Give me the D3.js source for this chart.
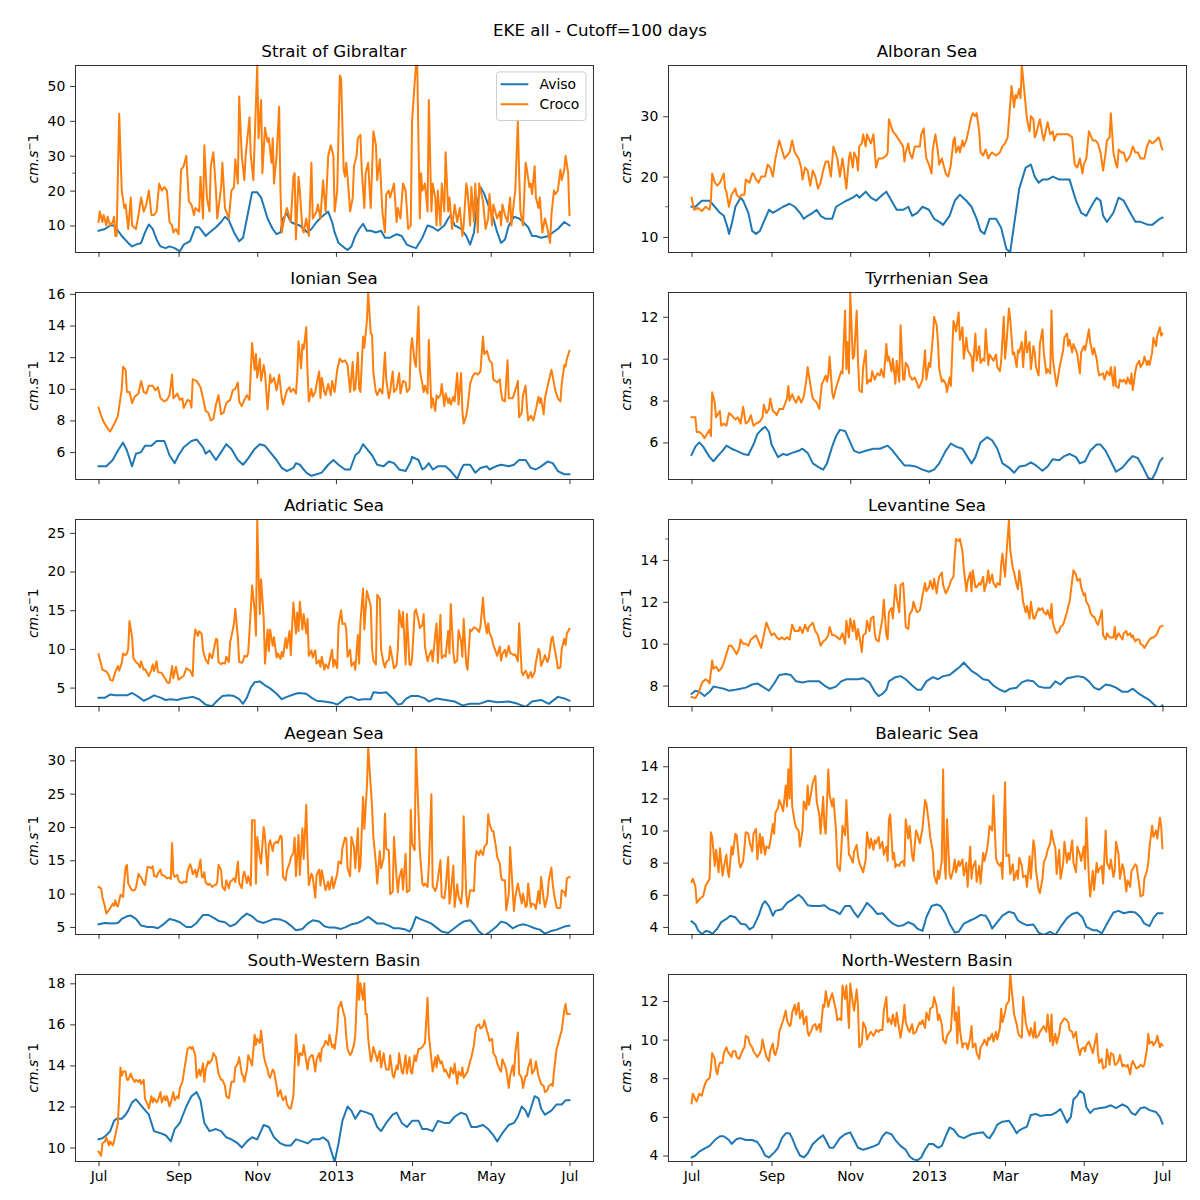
<!DOCTYPE html>
<html><head><meta charset="utf-8">
<script src="https://cdn.jsdelivr.net/npm/d3@7"></script>
<style>
body{margin:0;background:#fff}
svg{display:block}
text{font-family:"DejaVu Sans",sans-serif;fill:#000}
</style>
</head><body>
<svg id="chart" width="1200" height="1200"></svg>
<script>
// ---------------- data ----------------
const figureTitle = "EKE all - Cutoff=100 days";
const seriesNames = ["Aviso", "Croco"];
const seriesColors = ["#1f77b4", "#ff7f0e"];
const startDay = "2012-07-01"; // day 0 of every series; pairs are [day offset, value]

const regionTitles = ["Strait of Gibraltar","Alboran Sea","Ionian Sea","Tyrrhenian Sea","Adriatic Sea","Levantine Sea","Aegean Sea","Balearic Sea","South-Western Basin","North-Western Basin"];

const gibraltarYlim = [2.4, 56.0],  gibraltarTicks = [10,20,30,40,50], gibraltarMinor = [25];
const alboranYlim   = [7.5, 38.5],  alboranTicks   = [10,20,30],       alboranMinor = [15];
const ionianYlim    = [4.28, 16.1], ionianTicks    = [6,8,10,12,14,16], ionianMinor = [];
const tyrrhenianYlim= [4.24, 13.17],tyrrhenianTicks= [6,8,10,12],      tyrrhenianMinor = [];
const adriaticYlim  = [2.53, 26.7], adriaticTicks  = [5,10,15,20,25],  adriaticMinor = [];
const levantineYlim = [6.99, 15.92],levantineTicks = [8,10,12,14],     levantineMinor = [15];
const aegeanYlim    = [3.94, 32.0], aegeanTicks    = [5,10,15,20,25,30], aegeanMinor = [];
const balearicYlim  = [3.56, 15.2], balearicTicks  = [4,6,8,10,12,14], balearicMinor = [];
const swYlim        = [9.33, 18.44],swTicks        = [10,12,14,16,18], swMinor = [];
const nwYlim        = [3.7, 13.38], nwTicks        = [4,6,8,10,12],    nwMinor = [];

const gibraltarAviso = [[0,8.5],[5,9],[9,10],[12,10],[18,7],[23,5],[26,4],[29,4.5],[33,5],[36,8],[39,10.3],[42,9],[45,6],[48,4],[52,3.5],[55,4],[59,3.5],[63,2.6],[66,4.5],[71,5.5],[75,9.5],[78,9.5],[81,8],[83,7],[86,8],[91,9.5],[95,11],[98,12.5],[101,11.5],[105,8],[109,5.5],[112,6.5],[115,12],[119,19.5],[123,19.5],[126,18],[131,12],[135,9],[138,7.5],[141,8],[143,12],[146,13.5],[149,11],[152,10.5],[156,10],[159,9],[162,8],[165,9],[169,11],[173,12.5],[178,14],[181,11],[183,8],[186,5],[191,3.5],[193,3],[196,4],[199,7],[202,9],[205,10.5],[208,8.5],[211,8.5],[215,8],[219,8.5],[222,6.5],[226,6.5],[231,7.5],[235,7],[239,4.5],[242,4],[246,3.5],[251,6.5],[255,10],[259,9.5],[263,8.5],[268,10],[271,12],[273,13],[276,10],[281,9],[285,7],[288,4.5],[291,8],[293,15],[296,21],[299,19],[302,16],[306,12],[309,8],[312,5],[315,6],[318,10],[322,12.5],[326,12],[329,11],[333,9.5],[336,7],[339,7],[343,6.5],[349,7],[352,8],[356,9],[361,11],[365,10]];
const gibraltarCroco = [[0,11],[1,14],[3,11],[4,13],[6,10],[7,12.5],[9,10],[11,11],[12,12.5],[13,7],[14,7],[16,42],[18,20],[20,15],[21,16],[23,9],[25,18],[26,10],[29,9],[31,13],[33,18],[35,14],[37,16],[39,20],[41,13],[43,13],[45,14],[47,22],[49,20],[51,21],[53,20],[55,11],[57,10],[58,8],[60,9],[62,7.5],[64,26],[66,27],[68,30],[70,17],[72,16],[74,13],[75,15],[78,14],[79,24],[81,12],[82,33],[84,18],[86,14],[87,27],[89,31],[91,20],[92,12],[95,21],[96,28],[98,15],[101,12],[103,20],[105,21],[106,29],[108,22],[109,47],[111,30],[113,23],[114,30],[117,41],[118,30],[120,23],[122,45],[123,56],[124,35],[126,46],[127,25],[129,38],[131,34],[132,35],[134,28],[135,35],[136,22],[138,30],[140,44],[141,20],[142,8],[144,12],[146,15],[149,11],[151,24],[152,25],[153,6],[155,24],[156,20],[158,9],[159,8],[161,12],[163,7],[165,28],[166,12],[169,14],[170,16],[172,12],[174,23],[176,14],[178,30],[180,33],[182,30],[183,14],[185,20],[187,53],[188,52],[190,26],[191,24],[192,28],[193,24],[195,14],[197,18],[198,27],[200,30],[201,35],[203,36],[204,26],[206,15],[207,25],[209,28],[210,21],[211,15],[213,37],[215,33],[216,23],[218,29],[220,14],[222,8],[223,19],[225,20],[226,18],[229,22],[231,11],[232,15],[234,12],[236,22],[238,20],[240,9],[242,10],[243,40],[246,56],[247,56],[249,12],[250,25],[251,20],[253,22],[255,14],[256,46],[258,14],[259,22],[261,18],[262,10],[263,20],[265,10],[266,22],[268,14],[269,31],[271,14],[272,18],[274,9],[276,16],[278,11],[280,15],[282,7],[283,10],[285,22],[286,20],[288,10],[289,21],[291,11],[292,22],[294,8],[295,22],[298,17],[300,9],[302,12],[303,19],[305,10],[306,16],[309,12],[311,14],[312,10],[313,16],[315,13],[317,11],[319,18],[320,10],[322,17],[323,20],[325,40],[326,25],[327,14],[329,10],[331,28],[332,26],[334,21],[335,22],[336,19],[338,27],[339,18],[341,15],[342,18],[344,8],[346,12],[348,9],[350,5],[351,13],[353,20],[354,19],[356,20],[358,26],[359,23],[361,26],[362,30],[364,25],[365,13]];

const alboranAviso = [[0,15],[3,15],[8,16],[14,16],[18,15],[22,14],[25,13.5],[28,11.5],[29,10.5],[31,12],[34,15],[38,16.5],[40,16],[44,14],[47,11],[50,10.5],[53,11],[57,13],[60,14.5],[63,14],[67,14.5],[71,15],[76,15.5],[80,15],[84,14],[87,13],[90,13.5],[94,14],[97,14.5],[100,13.5],[104,13],[109,13],[112,15],[116,15.5],[120,16],[125,16.5],[128,17],[130,16.5],[135,17.5],[139,16.5],[143,16],[148,17],[151,17.5],[155,16],[159,14.5],[164,14.5],[168,15],[171,13.5],[175,14],[179,15],[184,14.5],[188,13],[192,12.5],[195,12],[200,13.5],[204,16],[208,17],[213,16],[217,15],[221,13],[224,11],[227,10.5],[231,13],[236,13],[240,11.5],[244,8],[247,7.5],[250,12],[254,18],[259,21.5],[263,22],[266,20],[269,19],[272,19.5],[276,19.5],[280,20],[285,19.5],[289,19.5],[293,19.5],[298,16],[302,14],[306,13.5],[311,15.5],[314,16.5],[317,16],[319,13.5],[322,12.5],[327,14],[331,16.5],[335,16],[340,14],[344,12.5],[348,12.5],[354,12],[357,12],[360,12.5],[363,13],[365,13.2]];
const alboranCroco = [[0,16.5],[2,14.5],[5,14.8],[8,14.3],[11,15],[14,14.5],[15,16],[16,20.5],[18,19],[20,18.5],[22,19],[25,20.5],[26,18],[27,17.5],[29,15],[31,17],[34,18],[35,17],[37,16.5],[39,17],[41,17],[42,19.5],[45,19],[47,20.5],[48,20.5],[50,19.5],[52,19],[54,20],[57,20],[59,22],[61,21.5],[63,20],[65,23],[68,26],[70,24.5],[72,23],[74,23.5],[76,24],[78,26],[80,24],[83,23],[85,21.5],[86,19.5],[88,21.5],[90,21],[92,18.5],[94,21],[96,20],[98,18],[100,19],[102,21],[104,22.5],[106,22.5],[108,20],[110,25],[113,23],[115,20],[117,23],[118,21.5],[120,18],[122,23],[123,24],[125,21.5],[126,24],[128,23],[129,21],[130,25],[132,25.5],[133,27],[135,25],[136,27],[138,26],[139,25.5],[141,27],[143,21.5],[145,23],[148,23],[151,23.5],[152,24],[153,29.5],[156,27.5],[158,27],[161,26],[164,25],[165,22.5],[166,24],[168,25.5],[169,24],[171,23],[173,25],[175,25],[177,25],[178,27],[180,28],[181,25],[182,23],[184,22],[186,20.5],[187,24.5],[189,27],[191,24],[192,22],[194,23],[197,20.5],[199,20],[201,22],[203,26],[204,26.5],[205,24],[207,25],[208,24],[210,26],[211,25],[213,26],[215,28],[217,30],[218,30.5],[220,30],[221,30.5],[223,27.5],[224,24],[226,23.5],[228,24.5],[230,23],[231,23.5],[233,24],[236,23.5],[239,24],[241,25],[243,25.5],[245,26.5],[247,32],[248,35],[250,31.5],[251,33.5],[252,33],[254,34.5],[255,33],[256,38.5],[258,34],[260,29.5],[262,27.5],[263,30],[265,29.5],[266,26.5],[267,27],[270,29.5],[272,27],[273,26],[276,29],[278,27],[280,27.5],[281,26],[283,27],[286,27],[289,27],[292,27],[295,26.5],[297,22],[299,21.5],[301,23],[303,20.5],[304,22],[306,23],[308,27.5],[311,26],[313,26],[315,25.5],[317,24],[319,21],[321,24],[322,26],[324,26.5],[325,30.5],[327,24],[329,22],[330,21.5],[331,24.5],[333,24],[335,24],[337,22.5],[340,23.5],[342,25],[344,24],[346,24],[348,23],[351,23],[353,25],[355,26],[357,25.5],[360,26],[362,26.5],[363,26],[364,25],[365,24.5]];

const ionianAviso = [[0,5.1],[6,5.1],[11,5.5],[15,6.1],[19,6.6],[22,6.1],[26,5.1],[29,5.9],[33,6.0],[36,6.4],[41,6.4],[45,6.7],[51,6.7],[55,5.8],[59,5.3],[62,5.8],[66,6.3],[72,6.7],[76,6.8],[81,6.3],[83,5.9],[86,6.1],[91,5.5],[95,6.0],[99,6.5],[103,6.2],[108,5.5],[112,5.2],[116,5.6],[121,6.2],[125,6.5],[129,6.4],[133,6.0],[138,5.5],[142,5.0],[146,4.8],[151,5.0],[153,5.3],[156,5.2],[161,4.7],[165,4.5],[169,4.6],[173,4.7],[178,5.2],[182,5.5],[186,5.2],[191,4.9],[195,4.9],[199,5.8],[202,6.0],[205,6.5],[208,6.2],[212,5.8],[216,5.2],[221,5.1],[225,5.4],[229,5.3],[233,4.9],[238,4.8],[242,5.4],[243,5.7],[248,5.5],[251,4.9],[253,5.0],[256,5.3],[259,4.9],[263,5.1],[269,5.1],[273,4.8],[278,4.3],[281,4.9],[283,5.2],[288,5.2],[292,4.7],[296,5.0],[301,5.1],[303,4.9],[308,5.1],[312,5.2],[318,5.1],[322,5.2],[326,5.5],[331,5.5],[335,5.0],[339,4.9],[343,5.1],[348,5.4],[352,5.3],[356,4.8],[361,4.6],[365,4.6]];
const ionianCroco = [[0,8.8],[2,8.3],[4,7.9],[7,7.5],[9,7.3],[11,7.6],[13,7.9],[15,8.3],[18,10],[19,11.4],[21,11.2],[22,9.8],[24,9.8],[26,9.1],[28,9.5],[31,9.7],[33,10.5],[35,9.8],[37,9.7],[39,10.2],[42,10.2],[44,9.9],[46,10.1],[48,9.4],[51,9.2],[53,9.3],[55,9.6],[57,10.9],[58,9.4],[61,9.7],[63,9.3],[65,9.4],[66,8.8],[69,9.3],[71,9.2],[72,8.8],[73,10.6],[76,10.5],[79,10.1],[81,9.4],[83,8.6],[85,8.5],[87,8.0],[89,8.1],[91,9.0],[93,9.6],[95,8.4],[97,8.5],[99,9.1],[102,9.3],[104,9.9],[106,10.0],[108,10.4],[109,9.2],[111,8.9],[113,9.3],[115,9.6],[117,9.3],[119,12.9],[121,11.2],[122,12.2],[123,10.7],[125,11.9],[126,10.5],[128,11.5],[129,11.0],[131,8.7],[133,10.9],[134,10.4],[136,10.7],[138,9.9],[140,10.9],[142,9.4],[143,9.0],[146,9.9],[148,10.1],[149,9.8],[151,10.0],[153,9.7],[154,10.8],[155,13.0],[157,11.3],[158,12.8],[159,12.5],[161,13.9],[162,11.0],[163,9.2],[165,10.0],[166,9.5],[168,9.8],[169,10.3],[171,11.1],[172,9.4],[173,10.7],[175,9.8],[176,9.6],[178,10.3],[180,9.6],[181,10.5],[183,9.8],[185,11.2],[187,11.9],[189,11.7],[191,11.8],[193,11.5],[195,9.8],[197,11.7],[198,9.9],[199,10.0],[201,12.3],[202,10.0],[203,9.8],[205,13.3],[206,12.6],[208,14.3],[209,16.1],[211,13.5],[212,13.4],[213,11.0],[215,9.8],[216,9.6],[218,10.0],[220,9.7],[222,12.3],[223,10.6],[225,9.4],[226,9.8],[228,11.1],[229,9.8],[231,10.0],[233,11.0],[234,9.7],[236,10.5],[238,10.4],[239,9.8],[241,10.0],[242,12.5],[243,13.2],[245,11.7],[246,11.4],[248,15.2],[249,11.2],[251,10.3],[252,9.8],[253,10.2],[255,9.7],[256,13.1],[258,8.8],[259,9.4],[261,8.6],[262,9.6],[263,9.4],[265,9.6],[266,10.3],[268,8.9],[269,9.7],[271,9.1],[272,9.4],[273,9.0],[275,9.5],[276,9.2],[278,11.0],[279,9.0],[281,11.0],[282,8.6],[283,7.8],[285,8.3],[286,8.8],[288,10.3],[290,10.8],[292,11.0],[294,10.9],[296,11.1],[298,13.3],[299,12.2],[301,12.4],[303,11.8],[305,11.6],[306,10.6],[309,10.4],[311,10.6],[312,9.8],[313,9.3],[315,9.2],[317,11.8],[318,9.4],[321,9.4],[323,9.9],[325,10.5],[326,8.2],[328,8.5],[329,9.6],[331,10.2],[332,8.9],[333,8.0],[335,8.3],[337,8.0],[339,8.7],[341,9.5],[342,9.1],[343,9.4],[345,8.4],[346,9.4],[349,10.5],[351,11.2],[352,10.8],[354,9.9],[356,9.4],[358,9.2],[359,10.3],[361,11.5],[362,11.4],[363,11.9],[365,12.4]];

const tyrrhenianAviso = [[0,5.4],[3,5.8],[6,6.0],[9,5.8],[14,5.3],[17,5.1],[21,5.4],[24,5.6],[27,5.85],[31,5.7],[35,5.6],[40,5.45],[44,5.4],[48,5.9],[51,6.4],[54,6.6],[57,6.75],[60,6.5],[62,5.9],[67,5.3],[71,5.45],[74,5.4],[78,5.5],[83,5.6],[86,5.7],[90,5.5],[94,5.0],[99,4.8],[102,4.7],[105,5.0],[109,5.8],[112,6.3],[115,6.6],[119,6.55],[123,6.0],[126,5.6],[130,5.5],[135,5.6],[141,5.7],[146,5.7],[152,5.85],[156,5.6],[161,5.2],[165,4.9],[169,4.9],[174,4.85],[179,4.7],[184,4.6],[188,4.7],[192,5.0],[197,5.6],[201,5.95],[205,5.8],[210,5.7],[214,5.3],[217,5.0],[220,5.3],[224,6.0],[229,6.25],[233,6.1],[237,5.7],[241,5.0],[246,4.8],[250,4.55],[254,4.85],[259,4.9],[263,5.05],[267,4.9],[272,4.65],[276,4.85],[280,5.2],[285,5.15],[289,5.35],[293,5.45],[298,5.3],[301,5.0],[305,5.1],[309,5.6],[314,5.9],[317,5.9],[321,5.6],[325,5.1],[329,4.6],[334,4.8],[338,5.1],[342,5.35],[346,5.25],[350,4.8],[354,4.3],[357,4.25],[360,4.6],[363,5.1],[365,5.25]];
const tyrrhenianCroco = [[0,7.2],[3,7.2],[4,6.5],[6,6.5],[8,6.4],[10,6.2],[12,6.4],[14,6.6],[15,6.3],[16,8.4],[18,7.9],[19,7.2],[22,7.5],[23,6.8],[25,6.9],[27,6.8],[29,7.4],[31,7.3],[34,7.1],[36,7.2],[38,6.9],[40,7.7],[42,6.9],[44,7.0],[46,7.3],[48,6.8],[50,6.9],[53,7.0],[55,7.2],[56,7.8],[58,7.4],[60,7.6],[61,8.1],[63,7.5],[65,7.4],[66,7.3],[68,7.6],[71,7.6],[74,8.1],[75,8.7],[76,8.0],[78,8.3],[80,8.0],[81,7.9],[83,8.2],[85,7.9],[87,8.2],[89,9.0],[90,9.6],[91,9.2],[93,8.4],[94,8.1],[97,7.9],[99,7.6],[101,8.8],[102,8.9],[104,9.2],[105,8.9],[106,9.2],[107,10.1],[109,8.4],[110,8.1],[112,8.6],[114,9.0],[116,9.4],[117,9.3],[119,12.3],[120,9.5],[121,10.8],[122,9.3],[123,13.2],[125,10.0],[126,10.1],[128,12.3],[129,10.0],[130,8.5],[132,8.4],[133,9.6],[135,10.4],[136,8.8],[138,9.0],[139,8.9],[140,9.4],[142,9.0],[144,9.3],[146,9.2],[147,9.5],[149,9.1],[151,10.7],[152,9.9],[153,10.1],[155,9.4],[156,10.0],[158,8.8],[159,9.9],[161,8.9],[162,11.6],[164,9.0],[165,9.0],[166,9.8],[168,9.6],[169,9.2],[171,9.0],[173,9.1],[175,8.8],[176,8.6],[177,8.7],[179,9.0],[181,10.4],[182,9.0],[184,9.8],[185,9.6],[187,11.0],[188,12.0],[190,11.6],[191,10.8],[192,9.5],[194,8.9],[195,9.0],[197,8.8],[198,8.4],[200,9.1],[201,8.7],[203,11.8],[204,11.6],[205,11.3],[207,12.2],[208,10.9],[210,11.5],[211,10.0],[213,11.0],[214,10.4],[216,10.2],[217,10.1],[218,9.4],[220,11.2],[221,9.9],[223,10.6],[224,9.8],[226,10.0],[227,9.9],[228,11.4],[230,9.7],[231,10.2],[233,10.0],[234,9.9],[236,10.2],[237,9.6],[239,9.4],[240,9.9],[242,12.0],[243,10.0],[244,10.6],[246,12.4],[247,11.9],[249,10.2],[250,10.3],[252,9.6],[253,10.4],[254,10.3],[256,10.8],[257,9.6],[259,11.3],[260,10.3],[262,10.8],[263,9.5],[265,10.6],[266,10.3],[267,9.6],[269,9.2],[270,10.7],[272,11.4],[273,10.3],[275,9.3],[276,9.5],[278,9.3],[279,12.3],[280,10.0],[282,9.1],[283,8.7],[285,9.5],[288,10.4],[289,11.0],[291,11.2],[292,10.6],[293,10.9],[295,10.3],[296,10.7],[298,10.4],[299,10.2],[301,9.3],[302,10.3],[304,10.6],[305,10.4],[306,10.7],[308,11.4],[309,10.8],[311,10.2],[312,10.5],[314,10.0],[315,9.5],[316,9.2],[319,9.3],[320,9.0],[322,9.4],[324,9.2],[325,9.6],[327,8.7],[328,9.6],[329,8.7],[331,8.6],[332,9.0],[334,8.9],[335,9.0],[337,8.8],[338,9.1],[340,8.8],[341,9.3],[342,8.5],[344,9.4],[345,9.7],[347,9.9],[348,9.6],[350,9.8],[351,10.1],[353,9.7],[354,9.9],[355,9.7],[357,10.3],[358,11.0],[360,10.6],[361,11.1],[363,11.5],[364,11.1],[365,11.2]];

const adriaticAviso = [[0,3.7],[5,3.7],[9,4.1],[13,4.0],[18,4.0],[22,4.0],[26,4.3],[31,3.8],[35,3.3],[39,3.6],[43,4.0],[48,3.7],[52,3.4],[56,3.5],[61,3.4],[65,3.6],[73,3.8],[78,3.5],[83,2.8],[88,2.6],[92,3.3],[96,3.9],[101,4.0],[105,3.9],[109,3.5],[112,2.9],[115,3.7],[118,5.0],[121,5.7],[125,5.8],[129,5.3],[133,4.9],[138,4.2],[142,3.5],[146,3.8],[151,4.1],[155,4.3],[161,4.2],[165,3.7],[169,3.3],[175,3.2],[182,3.0],[185,2.8],[189,3.3],[192,3.7],[196,3.8],[201,3.4],[205,3.5],[211,3.5],[213,4.4],[219,4.3],[223,4.4],[228,3.6],[232,2.8],[235,2.9],[238,3.5],[242,3.9],[248,3.9],[253,3.6],[256,3.2],[262,3.6],[269,3.4],[276,3.2],[282,2.7],[288,2.9],[295,2.9],[302,3.3],[309,3.1],[318,3.2],[325,2.9],[331,2.5],[336,3.2],[343,3.4],[349,2.9],[356,3.8],[361,3.6],[365,3.3]];
const adriaticCroco = [[0,9.3],[2,8.0],[3,7.3],[6,7.1],[8,6.6],[9,6.0],[11,5.9],[13,7.0],[15,7.8],[16,7.2],[18,8.2],[19,9.4],[21,9.2],[22,9.4],[23,10.0],[24,13.6],[26,11.5],[27,8.8],[29,8.3],[31,8.0],[32,7.6],[33,8.4],[35,7.3],[36,7.4],[38,6.8],[39,6.5],[41,7.3],[42,8.0],[43,7.1],[45,8.4],[46,7.0],[49,6.9],[51,6.3],[52,6.1],[53,5.7],[55,5.6],[57,7.8],[58,6.2],[60,7.7],[62,6.0],[64,6.3],[66,6.5],[68,7.5],[71,7.2],[73,6.5],[74,11.0],[75,12.5],[77,11.7],[78,12.3],[80,11.9],[81,9.8],[83,8.6],[85,8.1],[86,9.4],[88,8.8],[89,9.6],[91,11.3],[92,11.2],[93,8.3],[95,8.0],[96,8.2],[98,8.1],[99,9.0],[101,8.3],[102,10.9],[103,11.6],[105,13.3],[106,15.2],[108,11.4],[109,8.3],[111,8.2],[112,8.4],[113,9.1],[115,9.0],[116,9.5],[118,15.0],[119,18.2],[121,15.0],[122,11.7],[123,26.7],[124,20.0],[125,14.5],[126,19.0],[128,14.0],[129,8.1],[131,12.5],[132,9.7],[133,12.5],[135,10.4],[136,11.5],[138,8.9],[139,9.4],[141,8.7],[142,9.6],[143,9.0],[145,11.4],[146,10.1],[148,12.3],[149,9.2],[151,16.0],[153,12.0],[154,14.7],[155,12.3],[156,16.1],[158,12.5],[159,14.5],[161,12.0],[162,13.9],[163,9.1],[165,9.8],[166,8.9],[168,9.8],[169,8.1],[171,8.5],[172,7.7],[173,9.0],[175,7.3],[176,8.0],[178,7.5],[179,8.3],[181,9.9],[182,7.7],[183,8.6],[185,7.5],[186,13.0],[188,15.0],[189,13.2],[191,13.3],[192,12.5],[193,9.0],[195,9.9],[196,7.8],[198,8.3],[199,7.3],[201,11.8],[202,8.1],[203,13.4],[205,17.8],[206,12.5],[208,17.5],[209,16.8],[211,15.5],[212,10.0],[213,8.5],[215,8.0],[216,17.0],[218,16.5],[219,9.9],[221,8.1],[222,7.6],[223,8.3],[225,8.6],[226,10.3],[228,8.5],[229,7.5],[231,7.9],[232,10.0],[233,15.0],[235,12.8],[236,14.8],[238,8.0],[239,14.5],[241,8.0],[242,7.9],[243,8.7],[245,14.8],[246,15.1],[248,13.7],[249,12.7],[251,13.1],[252,14.5],[253,10.3],[255,8.4],[256,9.0],[258,9.8],[259,8.4],[261,11.9],[262,13.3],[263,8.2],[265,14.4],[266,8.8],[268,9.2],[269,9.0],[271,12.3],[272,9.4],[273,15.8],[275,9.6],[276,8.2],[278,8.5],[279,12.4],[281,11.0],[282,9.0],[283,13.9],[285,8.0],[286,7.3],[288,12.5],[289,12.3],[291,12.8],[292,12.7],[293,12.6],[295,12.2],[296,12.9],[298,16.6],[299,14.0],[301,12.0],[302,13.3],[303,12.1],[305,11.3],[306,10.5],[308,9.6],[309,9.1],[311,10.3],[312,8.5],[313,9.3],[315,9.9],[316,9.0],[318,10.4],[319,9.5],[321,9.3],[322,9.2],[323,9.3],[325,8.4],[326,13.3],[328,7.0],[329,6.6],[331,7.2],[332,6.8],[333,6.2],[335,7.0],[336,6.3],[338,7.0],[339,8.3],[341,10.0],[342,9.6],[343,7.8],[345,8.6],[346,9.2],[348,8.3],[349,8.8],[351,11.3],[352,11.6],[353,10.5],[355,8.7],[356,7.5],[358,7.6],[359,10.0],[361,11.3],[362,10.5],[363,12.0],[365,12.6]];

const levantineAviso = [[0,7.6],[3,7.75],[6,7.7],[10,7.5],[14,7.7],[17,7.95],[21,7.9],[25,7.85],[29,7.75],[34,7.8],[38,7.85],[42,7.9],[47,8.05],[51,8.1],[55,7.95],[60,7.75],[64,8.1],[68,8.5],[73,8.55],[77,8.5],[81,8.2],[86,8.15],[90,8.2],[94,8.2],[99,8.2],[103,8.0],[107,7.85],[112,7.95],[116,8.2],[120,8.3],[125,8.3],[129,8.3],[133,8.35],[138,8.15],[142,7.7],[145,7.5],[148,7.6],[151,7.8],[153,8.2],[158,8.4],[162,8.45],[166,8.3],[171,8.0],[175,7.8],[178,7.8],[182,8.2],[187,8.4],[191,8.3],[195,8.45],[200,8.5],[204,8.7],[208,8.9],[211,9.1],[214,8.9],[217,8.7],[221,8.55],[226,8.3],[230,8.25],[234,8.0],[239,7.8],[243,7.7],[247,7.85],[252,7.9],[256,8.15],[260,8.25],[265,8.2],[269,7.95],[273,7.9],[278,7.9],[282,8.2],[286,8.05],[291,8.35],[295,8.4],[299,8.45],[304,8.4],[308,8.2],[312,7.9],[316,7.8],[321,8.05],[325,8.0],[329,7.9],[334,7.7],[338,7.7],[342,7.85],[347,7.6],[351,7.45],[355,7.3],[360,7.0],[363,6.95],[365,7.05]];
const levantineCroco = [[0,7.45],[3,7.4],[5,7.6],[8,8.1],[9,8.2],[11,8.3],[13,8.2],[14,8.1],[16,9.2],[17,8.8],[19,8.9],[21,8.7],[23,8.8],[25,9.1],[27,9.5],[29,9.9],[31,9.9],[34,9.6],[35,9.5],[37,9.8],[38,10.2],[40,10.0],[42,10.0],[44,9.9],[46,10.2],[48,10.3],[50,10.4],[52,10.1],[54,9.8],[56,10.4],[58,11.0],[60,10.7],[62,10.4],[64,10.5],[66,10.3],[68,10.2],[70,10.3],[72,10.2],[74,10.3],[76,10.2],[78,10.9],[80,10.6],[83,10.6],[84,10.8],[86,10.5],[88,10.9],[90,10.6],[91,10.8],[94,11.0],[96,10.6],[98,10.4],[100,9.9],[102,10.1],[104,10.2],[106,10.4],[107,10.8],[109,10.4],[111,10.4],[113,10.3],[115,10.2],[117,10.5],[119,10.0],[120,11.1],[122,10.3],[123,11.2],[125,10.6],[126,11.1],[128,10.2],[129,10.7],[130,10.4],[132,9.6],[133,10.4],[135,10.5],[136,11.1],[138,10.6],[139,11.2],[141,11.3],[142,10.5],[143,10.2],[145,10.1],[146,10.5],[148,11.2],[149,12.1],[151,10.4],[152,10.2],[153,11.5],[155,11.7],[156,11.2],[158,12.8],[159,12.2],[161,11.5],[162,12.8],[164,12.9],[165,12.0],[166,10.8],[168,10.7],[169,11.4],[171,11.6],[172,12.0],[174,11.6],[175,11.5],[177,11.6],[178,11.9],[179,12.3],[181,12.9],[182,12.5],[184,12.7],[185,13.0],[187,12.6],[188,13.1],[190,12.4],[191,12.9],[192,13.2],[194,13.4],[195,12.8],[197,12.4],[198,12.5],[200,12.8],[201,13.0],[203,13.2],[204,14.2],[205,15.0],[207,14.9],[208,15.0],[210,14.4],[211,13.6],[213,12.5],[214,13.0],[216,13.4],[217,12.5],[218,13.5],[220,12.7],[221,12.7],[223,12.9],[224,12.8],[226,13.2],[227,12.5],[229,13.0],[230,13.5],[231,12.9],[233,13.3],[234,12.9],[236,12.7],[237,12.9],[239,12.8],[240,13.8],[241,14.3],[243,13.2],[244,14.2],[246,15.9],[247,14.5],[249,13.6],[250,13.4],[252,12.8],[253,12.6],[254,13.5],[256,12.6],[257,12.0],[259,11.5],[260,11.8],[262,11.2],[263,12.0],[265,11.2],[266,11.2],[267,11.4],[269,11.7],[270,11.6],[272,11.7],[273,11.5],[275,11.4],[276,11.6],[278,11.2],[279,11.9],[280,11.0],[282,10.6],[283,10.5],[285,10.6],[286,10.8],[288,10.9],[289,11.1],[291,11.5],[292,11.8],[293,12.0],[295,13.0],[296,13.5],[298,13.3],[299,13.0],[301,13.1],[302,12.7],[304,12.3],[305,12.4],[306,12.0],[308,11.8],[309,11.5],[311,11.3],[312,11.3],[314,11.0],[315,10.9],[316,11.1],[318,11.6],[319,10.4],[321,10.2],[322,10.5],[324,10.3],[325,10.3],[327,10.3],[328,10.8],[329,10.2],[331,10.5],[332,10.4],[334,10.2],[335,10.5],[337,10.6],[338,10.4],[340,10.5],[341,10.3],[342,10.4],[344,10.1],[345,10.2],[347,10.2],[348,10.0],[350,9.9],[351,9.8],[353,10.0],[354,10.1],[355,10.2],[357,10.3],[358,10.3],[360,10.4],[361,10.5],[363,10.8],[365,10.85]];

const aegeanAviso = [[0,5.4],[5,5.6],[11,5.5],[15,5.6],[18,6.2],[22,6.6],[25,6.7],[29,6.2],[33,5.2],[38,5.0],[42,5.0],[46,4.8],[51,5.5],[55,6.2],[59,6.0],[63,5.7],[68,5.0],[72,5.0],[76,5.6],[81,6.8],[85,6.8],[89,6.4],[93,5.9],[98,5.7],[102,5.1],[106,5.4],[111,6.4],[115,7.0],[119,6.6],[123,5.9],[128,5.6],[132,5.9],[136,6.2],[141,6.1],[145,5.8],[149,5.2],[153,4.5],[158,4.7],[162,5.5],[166,6.0],[171,5.8],[175,5.1],[179,4.9],[183,4.9],[188,4.7],[192,5.0],[196,5.4],[201,5.6],[205,6.0],[209,6.5],[212,6.1],[216,5.5],[221,5.5],[225,5.2],[229,4.8],[233,4.8],[238,4.6],[241,4.3],[243,4.9],[246,6.5],[249,6.2],[253,5.9],[258,5.5],[262,4.9],[266,4.3],[271,4.1],[275,4.7],[279,5.3],[283,5.8],[288,6.0],[291,5.4],[295,4.3],[299,3.7],[303,4.2],[308,5.0],[312,5.8],[316,5.6],[321,4.8],[325,5.2],[329,5.4],[333,5.2],[338,4.8],[342,4.6],[346,4.0],[351,4.4],[355,4.6],[359,4.9],[362,5.1],[365,5.2]];
const aegeanCroco = [[0,11.0],[2,10.8],[3,9.5],[5,8.0],[6,7.0],[9,7.8],[11,8.5],[12,8.2],[13,9.0],[14,8.2],[15,8.1],[17,9.8],[18,9.7],[19,9.5],[20,12.0],[21,14.0],[22,14.3],[23,11.5],[25,10.8],[26,10.5],[28,10.5],[29,10.9],[31,13.0],[32,12.6],[33,12.4],[35,11.5],[36,11.3],[38,14.0],[39,14.0],[41,13.8],[42,14.1],[43,12.7],[45,12.5],[46,13.0],[48,13.6],[49,12.8],[51,12.7],[52,12.5],[53,12.3],[55,12.4],[56,12.2],[57,17.6],[58,13.0],[59,12.5],[61,12.8],[62,12.0],[63,11.7],[65,11.6],[66,11.8],[68,11.7],[69,13.3],[71,14.4],[72,13.9],[73,12.9],[75,13.6],[76,12.5],[78,14.1],[79,15.1],[80,12.6],[81,12.4],[82,13.2],[83,11.7],[85,11.3],[86,11.5],[88,11.0],[89,11.2],[91,11.3],[92,11.7],[93,14.3],[95,13.5],[96,11.0],[98,10.5],[99,12.0],[101,10.8],[102,11.8],[103,11.9],[105,12.3],[106,11.7],[108,14.8],[109,11.6],[110,11.2],[111,10.8],[112,12.6],[113,13.3],[115,11.6],[116,12.6],[118,11.2],[119,21.0],[121,21.0],[122,11.5],[123,18.5],[125,15.5],[126,14.5],[128,20.0],[129,18.6],[131,12.8],[132,17.4],[133,18.0],[135,16.4],[136,17.5],[138,17.8],[139,17.6],[141,18.7],[142,18.5],[143,12.5],[145,12.0],[146,13.5],[148,14.5],[149,15.4],[151,16.1],[152,18.4],[153,12.6],[155,18.8],[156,12.8],[158,19.8],[159,15.2],[161,23.3],[162,16.0],[163,11.3],[165,13.0],[166,12.5],[168,9.4],[169,12.8],[171,13.6],[172,11.2],[173,13.5],[175,11.5],[176,10.5],[178,11.8],[179,10.6],[181,12.5],[182,10.8],[183,11.5],[185,13.0],[186,14.8],[188,14.5],[189,16.8],[191,18.4],[192,18.3],[193,13.8],[195,12.6],[196,18.5],[198,17.0],[199,13.8],[201,19.8],[202,13.3],[203,14.2],[205,24.5],[206,19.7],[208,26.0],[209,31.9],[211,26.0],[212,23.0],[213,18.5],[215,14.5],[216,11.5],[218,16.4],[219,13.8],[221,15.3],[222,22.0],[223,16.7],[225,16.5],[226,9.9],[228,10.3],[229,18.5],[231,12.4],[232,10.2],[233,12.3],[235,13.7],[236,10.6],[238,16.0],[239,10.2],[241,10.5],[242,22.6],[243,17.5],[245,16.5],[246,32.0],[248,22.0],[249,16.5],[251,11.5],[252,11.2],[253,11.5],[255,11.0],[256,14.2],[258,24.9],[259,11.1],[261,10.4],[262,10.9],[263,12.2],[265,15.0],[266,9.5],[268,9.3],[269,10.8],[271,15.5],[272,8.5],[273,10.0],[275,14.2],[276,8.0],[278,11.4],[279,9.6],[281,8.5],[282,10.6],[283,21.6],[285,9.8],[286,8.0],[288,10.5],[289,10.5],[291,10.4],[292,14.8],[293,16.4],[295,15.8],[296,16.5],[298,15.8],[299,17.0],[301,17.5],[302,21.9],[303,20.5],[305,19.4],[306,19.4],[308,17.0],[309,15.5],[311,14.5],[312,12.5],[313,12.0],[315,12.0],[316,7.5],[318,10.0],[319,17.0],[321,10.5],[322,7.4],[323,9.5],[325,11.5],[326,10.5],[328,8.5],[329,10.0],[331,8.0],[332,8.2],[333,11.5],[335,8.0],[336,8.5],[338,8.3],[339,7.7],[341,10.4],[342,8.5],[343,12.5],[345,9.2],[346,8.0],[348,9.6],[349,12.0],[351,13.9],[352,11.5],[353,10.0],[355,8.0],[356,7.8],[358,7.9],[359,10.5],[361,10.2],[362,9.6],[363,12.3],[365,12.5]];

const balearicAviso = [[0,4.35],[3,4.15],[5,3.8],[8,3.55],[11,3.75],[14,3.7],[16,3.55],[20,3.9],[23,4.3],[27,4.5],[30,4.7],[34,4.6],[38,4.2],[42,4.15],[45,3.85],[48,4.0],[52,4.7],[55,5.4],[57,5.6],[60,5.3],[63,4.7],[65,5.0],[70,5.1],[74,5.5],[78,5.7],[83,6.0],[86,5.8],[90,5.35],[94,5.3],[99,5.3],[103,5.35],[107,5.1],[111,5.0],[115,4.8],[119,5.3],[123,5.3],[126,4.9],[129,4.6],[133,5.1],[136,5.5],[140,5.2],[144,4.8],[148,4.85],[152,4.5],[156,4.2],[160,4.05],[164,4.1],[168,4.3],[172,4.15],[175,3.9],[179,3.75],[182,4.6],[186,5.3],[190,5.4],[193,5.3],[197,4.8],[200,4.2],[204,3.65],[207,3.7],[211,4.2],[216,4.4],[220,4.55],[224,4.75],[228,4.7],[231,4.3],[233,3.9],[237,4.3],[241,4.7],[246,4.95],[250,4.85],[253,4.4],[256,4.25],[260,4.1],[265,4.15],[269,3.65],[273,3.5],[278,3.7],[282,3.5],[286,4.0],[291,4.55],[295,4.8],[299,4.9],[303,4.6],[306,4.0],[311,3.8],[314,3.8],[318,3.6],[322,4.2],[327,4.9],[331,5.0],[335,4.85],[340,4.95],[344,4.9],[348,4.6],[351,4.2],[355,4.05],[358,4.55],[361,4.85],[365,4.85]];
const balearicCroco = [[0,6.8],[1,7.0],[3,6.5],[4,5.5],[5,5.6],[7,5.8],[9,5.9],[11,6.6],[12,6.7],[14,7.0],[15,9.9],[16,9.6],[18,7.8],[19,8.8],[21,7.4],[22,8.9],[24,7.2],[25,7.7],[27,8.5],[28,7.5],[29,7.1],[31,9.0],[32,8.5],[34,9.8],[35,9.7],[37,8.0],[38,7.7],[40,8.1],[41,8.9],[42,9.9],[44,9.8],[45,9.3],[47,8.7],[48,9.8],[50,10.1],[51,8.2],[53,9.8],[54,8.6],[55,9.6],[57,8.5],[58,9.0],[60,8.9],[61,9.3],[63,10.4],[64,9.8],[65,11.1],[67,11.4],[68,11.9],[70,11.5],[71,11.2],[73,12.8],[74,11.5],[75,13.8],[76,12.0],[77,15.2],[78,11.5],[80,10.5],[81,10.2],[83,10.0],[84,9.0],[86,10.0],[87,11.8],[89,11.3],[90,12.8],[91,11.6],[93,12.5],[94,13.0],[96,13.4],[97,11.8],[99,11.0],[100,9.8],[102,12.1],[103,10.3],[104,9.8],[106,13.8],[107,12.2],[109,11.5],[110,12.0],[112,10.0],[113,7.8],[115,7.5],[116,8.7],[117,10.3],[119,9.7],[120,11.9],[122,8.5],[123,8.4],[125,8.0],[126,8.7],[128,9.1],[129,8.4],[130,8.0],[132,7.6],[133,7.4],[135,8.2],[136,9.9],[138,8.9],[139,9.5],[141,8.8],[142,9.4],[143,9.2],[145,9.6],[146,8.9],[148,9.3],[149,8.5],[151,9.0],[152,8.1],[153,10.7],[154,11.0],[156,8.2],[157,8.6],[158,7.7],[159,7.9],[161,7.8],[162,8.0],[164,8.1],[165,7.8],[166,10.7],[168,9.5],[169,10.3],[171,8.4],[172,8.1],[174,10.0],[175,9.8],[177,9.2],[178,9.7],[179,10.1],[181,11.9],[182,11.7],[184,10.4],[185,9.6],[187,8.7],[188,7.2],[190,6.7],[191,7.5],[192,7.0],[194,8.2],[195,13.8],[196,8.2],[197,7.0],[198,10.7],[200,7.3],[201,7.0],[203,7.6],[204,8.2],[205,7.4],[207,8.1],[208,7.8],[210,8.2],[211,7.2],[213,8.0],[214,6.5],[216,9.0],[217,7.0],[218,7.7],[220,8.1],[221,6.8],[223,7.8],[224,6.7],[226,8.6],[227,8.1],[229,8.8],[230,9.4],[231,10.3],[233,10.0],[234,12.2],[236,8.3],[237,8.0],[239,7.8],[240,8.0],[241,7.0],[243,13.0],[244,8.4],[246,8.5],[247,7.3],[249,7.9],[250,6.9],[252,7.5],[253,7.0],[254,8.3],[256,7.8],[257,7.1],[259,7.2],[260,6.5],[262,8.4],[263,7.0],[265,9.4],[266,8.9],[267,7.5],[269,6.3],[270,6.1],[272,7.0],[273,8.0],[275,8.4],[276,8.8],[278,9.2],[279,10.0],[280,9.5],[282,8.9],[283,7.3],[285,8.8],[286,7.0],[288,7.9],[289,9.3],[291,8.0],[292,8.6],[293,8.2],[295,9.4],[296,8.0],[298,7.4],[299,9.0],[301,8.5],[302,8.1],[304,9.0],[305,7.6],[306,10.8],[308,7.0],[309,5.9],[311,7.5],[312,6.3],[314,8.0],[315,7.4],[316,7.6],[318,7.8],[319,6.7],[321,10.0],[322,8.0],[324,7.6],[325,8.2],[327,7.1],[328,7.5],[329,9.3],[331,8.5],[332,7.0],[334,7.9],[335,7.6],[337,6.2],[338,6.9],[340,6.5],[341,7.5],[342,7.6],[344,7.9],[345,7.8],[347,6.6],[348,5.9],[350,6.0],[351,7.0],[353,7.5],[354,8.0],[355,9.0],[357,10.3],[358,9.6],[360,10.0],[361,9.5],[363,10.8],[364,10.3],[365,8.9]];

const swAviso = [[0,10.4],[3,10.45],[6,10.6],[9,10.8],[12,11.3],[14,11.4],[18,11.4],[21,11.6],[23,11.8],[26,12.2],[29,12.35],[31,12.2],[35,11.9],[39,11.6],[43,10.8],[48,10.7],[52,10.6],[56,10.3],[59,10.9],[63,11.2],[68,12.0],[72,12.5],[76,12.7],[79,12.3],[82,11.2],[86,10.8],[91,10.9],[95,10.8],[99,10.5],[103,10.4],[108,10.2],[111,10.0],[115,10.3],[119,10.5],[123,10.4],[128,11.1],[132,11.0],[136,10.5],[141,10.2],[145,10.1],[149,10.1],[153,10.4],[158,10.3],[162,10.2],[166,10.4],[171,10.4],[174,10.5],[178,10.3],[181,9.7],[183,9.3],[186,10.2],[189,11.3],[193,12.0],[196,11.8],[199,11.4],[203,11.8],[208,11.7],[212,11.6],[216,11.0],[219,10.8],[223,11.2],[228,11.6],[231,11.7],[235,11.2],[239,11.0],[243,11.3],[248,11.3],[251,10.9],[255,10.9],[259,10.8],[263,11.3],[268,11.2],[272,11.2],[276,11.5],[281,11.7],[285,11.6],[289,11.0],[293,11.0],[298,11.1],[302,10.9],[306,10.6],[309,10.3],[313,10.7],[318,11.1],[322,11.2],[325,11.5],[328,12.0],[331,11.8],[333,11.5],[338,12.5],[341,12.4],[343,11.9],[346,11.6],[351,11.8],[355,12.1],[359,12.1],[362,12.3],[365,12.3]];
const swCroco = [[0,9.8],[2,9.6],[3,10.2],[5,10.3],[6,10.5],[8,10.1],[9,10.3],[11,10.1],[12,10.3],[13,10.6],[15,11.2],[16,12.5],[17,13.9],[18,13.5],[19,13.7],[21,13.7],[22,13.3],[23,13.3],[25,13.6],[26,13.4],[28,13.2],[29,13.3],[31,13.2],[32,13.3],[33,13.1],[35,13.3],[36,12.4],[38,12.1],[39,11.9],[41,12.5],[42,12.2],[43,12.4],[45,12.2],[46,12.3],[48,12.7],[49,12.2],[51,12.5],[52,12.3],[53,12.5],[55,12.0],[56,12.2],[58,12.7],[59,12.3],[61,12.5],[62,12.4],[63,12.9],[65,13.2],[66,13.6],[68,14.4],[69,14.8],[71,14.9],[72,14.8],[73,14.9],[75,14.5],[76,13.4],[78,13.8],[79,13.5],[81,14.1],[82,13.2],[83,13.8],[85,14.2],[86,14.1],[88,14.3],[89,14.6],[91,14.4],[92,14.0],[93,13.6],[95,13.3],[96,13.3],[98,13.0],[99,12.5],[101,12.4],[102,12.8],[103,13.2],[105,13.2],[106,13.9],[108,14.1],[109,14.4],[111,13.6],[112,13.5],[113,13.2],[115,13.8],[116,14.5],[118,14.2],[119,14.0],[121,15.5],[122,15.0],[123,15.3],[125,15.1],[126,15.7],[128,14.5],[129,14.2],[131,13.8],[132,13.5],[133,13.4],[135,13.8],[136,13.7],[138,13.0],[139,12.5],[141,12.8],[142,12.5],[143,12.3],[145,12.5],[146,12.1],[148,11.9],[149,11.9],[151,12.5],[152,14.0],[153,15.5],[155,14.0],[156,14.6],[158,14.5],[159,15.0],[161,14.2],[162,13.8],[163,14.3],[165,14.5],[166,14.5],[168,13.7],[169,14.3],[171,14.6],[172,14.2],[173,14.8],[175,15.0],[176,15.2],[178,15.0],[179,15.5],[181,14.9],[182,15.0],[183,14.8],[185,15.8],[186,16.8],[188,17.1],[189,16.8],[191,16.3],[192,15.4],[193,14.8],[195,14.5],[196,14.6],[198,15.0],[199,15.5],[200,17.0],[201,18.5],[202,17.2],[203,18.0],[205,17.2],[206,18.0],[207,16.5],[208,16.5],[209,15.3],[211,14.2],[212,14.4],[213,14.9],[215,14.5],[216,14.2],[218,14.7],[219,13.9],[221,14.6],[222,14.1],[223,13.8],[225,13.8],[226,14.5],[228,13.5],[229,13.4],[231,14.0],[232,13.8],[233,14.6],[235,13.7],[236,13.6],[238,14.5],[239,13.6],[241,14.4],[242,13.7],[243,13.6],[245,14.5],[246,14.2],[248,14.8],[249,14.8],[251,14.9],[252,15.0],[253,15.1],[255,17.3],[256,15.5],[258,14.3],[259,13.7],[261,14.4],[262,13.9],[263,14.5],[265,14.1],[266,14.2],[268,13.7],[269,13.8],[271,13.5],[272,13.4],[273,13.9],[275,13.6],[276,14.1],[278,13.1],[279,13.7],[281,13.5],[282,13.9],[283,13.4],[285,13.6],[286,13.7],[288,14.2],[289,14.4],[291,15.0],[292,15.6],[293,15.9],[295,16.0],[296,15.8],[298,15.9],[299,16.2],[301,15.7],[302,15.5],[303,15.2],[305,15.3],[306,14.6],[308,14.4],[309,14.1],[311,13.8],[312,13.7],[313,14.3],[315,14.0],[316,13.8],[318,12.9],[319,13.5],[321,14.0],[322,13.5],[323,14.6],[325,15.6],[326,13.6],[328,13.4],[329,12.9],[331,13.5],[332,13.5],[333,13.9],[335,14.3],[336,13.6],[338,13.8],[339,14.2],[341,13.5],[342,13.3],[343,13.1],[345,13.0],[346,12.7],[348,12.8],[349,13.0],[351,13.1],[352,13.0],[353,13.7],[355,14.8],[356,15.0],[358,15.5],[359,15.7],[361,16.7],[362,17.0],[363,16.5],[365,16.5]];

const nwAviso = [[0,3.9],[3,4.0],[6,4.2],[11,4.4],[14,4.5],[18,4.8],[22,5.0],[25,5.0],[29,4.8],[31,4.6],[35,4.85],[38,4.9],[42,4.8],[47,4.8],[51,4.7],[54,4.4],[57,4.0],[60,3.9],[64,4.15],[67,4.4],[70,4.9],[73,5.15],[76,5.15],[78,4.9],[81,4.4],[84,4.0],[87,3.9],[90,4.1],[94,4.6],[99,4.9],[102,5.05],[104,4.8],[107,4.4],[110,4.4],[115,4.9],[119,5.1],[123,5.2],[126,4.8],[129,4.4],[133,4.3],[138,4.4],[142,4.5],[145,4.6],[148,5.0],[151,5.2],[155,5.1],[158,4.8],[162,4.5],[166,4.3],[169,3.95],[172,3.8],[175,3.75],[178,3.9],[181,4.3],[184,4.6],[187,4.6],[191,4.4],[194,4.5],[197,5.0],[200,5.45],[203,5.35],[207,5.0],[211,4.9],[214,5.0],[217,5.1],[221,5.15],[226,5.2],[229,4.95],[231,4.9],[234,5.2],[237,5.6],[241,5.75],[246,5.8],[249,5.5],[252,5.15],[254,5.3],[257,5.4],[260,5.5],[263,6.1],[267,6.15],[270,6.05],[275,6.1],[279,6.1],[283,6.25],[286,6.4],[289,6.0],[291,5.7],[294,6.0],[296,6.9],[299,7.1],[301,7.35],[304,7.2],[306,6.5],[309,6.2],[312,6.4],[316,6.45],[321,6.5],[325,6.6],[329,6.45],[334,6.65],[338,6.5],[341,6.2],[344,6.1],[348,6.45],[351,6.5],[355,6.35],[360,6.25],[363,6.0],[365,5.65]];
const nwCroco = [[0,6.7],[1,7.2],[3,6.9],[4,6.8],[5,7.0],[6,7.2],[8,7.1],[9,7.4],[11,7.8],[12,7.9],[14,8.0],[15,8.5],[16,9.3],[18,9.0],[19,8.4],[20,8.2],[21,8.6],[22,8.8],[24,8.8],[25,9.3],[27,9.6],[28,9.4],[29,9.3],[31,9.1],[32,9.4],[34,9.4],[35,9.1],[37,9.0],[38,9.2],[40,9.5],[41,9.6],[42,10.2],[44,10.1],[45,9.8],[47,9.6],[48,9.4],[50,9.2],[51,9.1],[53,9.3],[54,9.5],[55,10.0],[57,9.4],[58,9.1],[60,8.9],[61,9.4],[63,9.8],[64,9.3],[65,9.2],[67,9.7],[68,10.4],[70,10.8],[71,11.0],[73,11.5],[74,11.0],[76,10.7],[77,10.8],[78,11.4],[80,11.8],[81,11.3],[83,11.9],[84,11.1],[86,11.5],[87,10.8],[89,11.2],[90,10.4],[91,10.2],[93,10.5],[94,10.7],[96,10.8],[97,10.5],[99,10.8],[100,10.4],[102,11.8],[103,11.7],[104,12.5],[106,11.7],[107,12.0],[109,12.4],[110,12.1],[112,11.5],[113,11.0],[115,11.1],[116,11.0],[117,12.8],[119,12.1],[120,12.8],[122,10.6],[123,12.9],[125,11.9],[126,11.5],[128,12.6],[129,11.8],[130,9.6],[132,9.8],[133,10.9],[135,10.6],[136,10.0],[138,10.3],[139,10.4],[141,10.2],[142,10.3],[143,10.5],[145,10.4],[146,10.5],[148,10.5],[149,11.5],[151,12.2],[152,10.9],[153,11.1],[155,10.8],[156,11.3],[158,10.7],[159,11.4],[161,10.5],[162,10.1],[164,11.0],[165,11.8],[166,10.9],[168,10.5],[169,10.4],[171,10.8],[172,10.3],[174,10.4],[175,10.6],[177,10.9],[178,10.8],[179,11.0],[181,10.6],[182,11.4],[184,11.0],[185,11.6],[187,11.7],[188,12.2],[190,11.7],[191,11.0],[192,11.3],[194,10.8],[195,10.0],[197,9.8],[198,10.2],[200,10.4],[201,10.5],[203,12.7],[204,11.0],[205,11.4],[206,9.8],[207,11.7],[208,10.5],[210,9.6],[211,9.8],[213,9.8],[214,9.5],[216,10.1],[217,10.7],[218,9.6],[220,9.8],[221,9.3],[223,9.0],[224,9.6],[226,9.8],[227,10.0],[229,9.7],[230,10.1],[231,10.0],[233,10.3],[234,9.9],[236,10.4],[237,10.0],[239,10.6],[240,11.6],[241,10.9],[243,11.4],[244,11.8],[246,12.0],[247,13.4],[249,12.0],[250,11.3],[252,10.8],[253,10.4],[254,10.2],[256,10.1],[257,12.2],[259,10.9],[260,10.6],[262,10.2],[263,10.6],[265,10.1],[266,10.9],[267,10.1],[269,10.2],[270,10.4],[272,10.6],[273,10.7],[275,10.4],[276,11.3],[278,9.9],[279,11.3],[280,9.7],[282,10.3],[283,9.8],[285,10.3],[286,10.8],[288,11.0],[289,11.1],[291,11.0],[292,10.9],[293,10.5],[295,10.4],[296,10.1],[298,10.4],[299,9.8],[301,9.2],[302,9.5],[304,9.6],[305,9.4],[306,9.7],[308,9.9],[309,9.7],[311,9.3],[312,9.6],[314,10.3],[315,9.3],[316,8.8],[318,9.0],[319,8.5],[321,8.6],[322,9.5],[324,8.7],[325,9.3],[327,9.2],[328,8.7],[329,8.7],[331,8.9],[332,9.2],[334,8.6],[335,8.7],[337,8.6],[338,8.7],[340,8.2],[341,8.7],[342,8.9],[344,8.6],[345,8.5],[347,8.6],[348,8.7],[350,8.6],[351,8.7],[353,9.5],[354,10.3],[355,9.8],[357,9.9],[358,9.7],[360,9.9],[361,10.2],[363,9.6],[364,9.8],[365,9.7]];

// ---------------- drawing ----------------
const panels = [
  {title: regionTitles[0], aviso: gibraltarAviso,  croco: gibraltarCroco,  ylim: gibraltarYlim,  ticks: gibraltarTicks,  minor: gibraltarMinor, legend: true},
  {title: regionTitles[1], aviso: alboranAviso,    croco: alboranCroco,    ylim: alboranYlim,    ticks: alboranTicks,    minor: alboranMinor},
  {title: regionTitles[2], aviso: ionianAviso,     croco: ionianCroco,     ylim: ionianYlim,     ticks: ionianTicks,     minor: ionianMinor},
  {title: regionTitles[3], aviso: tyrrhenianAviso, croco: tyrrhenianCroco, ylim: tyrrhenianYlim, ticks: tyrrhenianTicks, minor: tyrrhenianMinor},
  {title: regionTitles[4], aviso: adriaticAviso,   croco: adriaticCroco,   ylim: adriaticYlim,   ticks: adriaticTicks,   minor: adriaticMinor},
  {title: regionTitles[5], aviso: levantineAviso,  croco: levantineCroco,  ylim: levantineYlim,  ticks: levantineTicks,  minor: levantineMinor},
  {title: regionTitles[6], aviso: aegeanAviso,     croco: aegeanCroco,     ylim: aegeanYlim,     ticks: aegeanTicks,     minor: aegeanMinor},
  {title: regionTitles[7], aviso: balearicAviso,   croco: balearicCroco,   ylim: balearicYlim,   ticks: balearicTicks,   minor: balearicMinor},
  {title: regionTitles[8], aviso: swAviso,         croco: swCroco,         ylim: swYlim,         ticks: swTicks,         minor: swMinor},
  {title: regionTitles[9], aviso: nwAviso,         croco: nwCroco,         ylim: nwYlim,         ticks: nwTicks,         minor: nwMinor}
];

const svg = d3.select("#chart");
svg.append("rect").attr("width",1200).attr("height",1200).attr("fill","#fff");

const colX = [75, 668], axW = 518, axH = 187;
const rowY = [65, 292.3, 519.7, 747, 974.3];
const FS = 13.9, TFS = 16.67, TICK = 4.86;

const t0 = new Date(startDay + "T00:00:00Z").getTime();
const toDate = d => new Date(t0 + d * 864e5);
const x = d3.scaleUtc().domain([toDate(-18.25), toDate(365 + 18.25)]).range([0, axW]);
const xTickValues = d3.utcMonth.every(2).range(toDate(0), toDate(366));
const fmtMonth = d3.utcFormat("%b"), fmtYear = d3.utcFormat("%Y");
const xFmt = d => d.getUTCMonth() === 0 ? fmtYear(d) : fmtMonth(d);

svg.append("text").attr("x", 600).attr("y", 36).attr("text-anchor","middle")
  .style("font-size", TFS + "px").text(figureTitle);

panels.forEach((p, i) => {
  const col = i % 2, row = Math.floor(i / 2);
  const g = svg.append("g").attr("transform", `translate(${colX[col]},${rowY[row]})`);
  const y = d3.scaleLinear().domain(p.ylim).range([axH, 0]);

  const clipId = "clip" + i;
  g.append("clipPath").attr("id", clipId).append("rect").attr("width", axW).attr("height", axH);

  const line = d3.line().x(d => x(toDate(d[0]))).y(d => y(d[1]));
  const lines = g.append("g").attr("clip-path", `url(#${clipId})`);
  [p.aviso, p.croco].forEach((s, k) => {
    lines.append("path").datum(s).attr("d", line).attr("fill","none")
      .attr("stroke", seriesColors[k]).attr("stroke-width", 2)
      .attr("stroke-linejoin","round").attr("stroke-linecap","square");
  });

  // x axis
  const xa = g.append("g").attr("transform", `translate(0,${axH})`)
    .call(d3.axisBottom(x).tickValues(xTickValues).tickSize(TICK).tickPadding(TICK)
      .tickFormat(row === 4 ? xFmt : () => ""));
  // y axis
  const ya = g.append("g")
    .call(d3.axisLeft(y).tickValues(p.ticks).tickSize(TICK).tickPadding(TICK).tickFormat(d3.format("d")));
  [xa, ya].forEach(a => {
    a.select(".domain").remove();
    a.attr("font-family", null).attr("font-size", null);
    a.selectAll(".tick line").attr("stroke","#000").attr("stroke-width",0.8);
    a.selectAll(".tick text").style("font-size", FS + "px").attr("fill","#000");
  });
  // small extra marks
  p.minor.forEach(v => {
    g.append("line").attr("x1", -2.8).attr("x2", 0).attr("y1", y(v)).attr("y2", y(v))
      .attr("stroke","#000").attr("stroke-width",0.6);
  });

  // frame
  g.append("rect").attr("width", axW).attr("height", axH).attr("fill","none")
    .attr("stroke","#000").attr("stroke-width",0.8).attr("shape-rendering","crispEdges");

  // title
  g.append("text").attr("x", axW/2).attr("y", -8.33).attr("text-anchor","middle")
    .style("font-size", TFS + "px").text(p.title);

  // y label
  const yl = g.append("text").attr("transform", `translate(-37,${axH/2}) rotate(-90)`)
    .attr("text-anchor","middle").style("font-size", FS + "px");
  yl.append("tspan").style("font-family","'DejaVu Sans'").style("font-style","italic").text("cm.s");
  yl.append("tspan").attr("dy", -5).style("font-size", (FS*0.7) + "px").text("\u2212");
  yl.append("tspan").attr("dy", 5).text("1");

  // legend
  if (p.legend) {
    const lg = g.append("g").attr("transform", `translate(${axW - 6.95 - 89.5},6.95)`);
    lg.append("rect").attr("width", 89.5).attr("height", 48.5).attr("rx", 2.8)
      .attr("fill","#fff").attr("fill-opacity",0.8).attr("stroke","#cccccc").attr("stroke-width",1);
    seriesNames.forEach((n, k) => {
      const yy = 12.3 + k * 20;
      lg.append("line").attr("x1", 4).attr("x2", 31.8).attr("y1", yy).attr("y2", yy)
        .attr("stroke", seriesColors[k]).attr("stroke-width", 2);
      lg.append("text").attr("x", 43).attr("y", yy + 5).style("font-size", FS + "px").text(n);
    });
  }
});
</script>
</body></html>
